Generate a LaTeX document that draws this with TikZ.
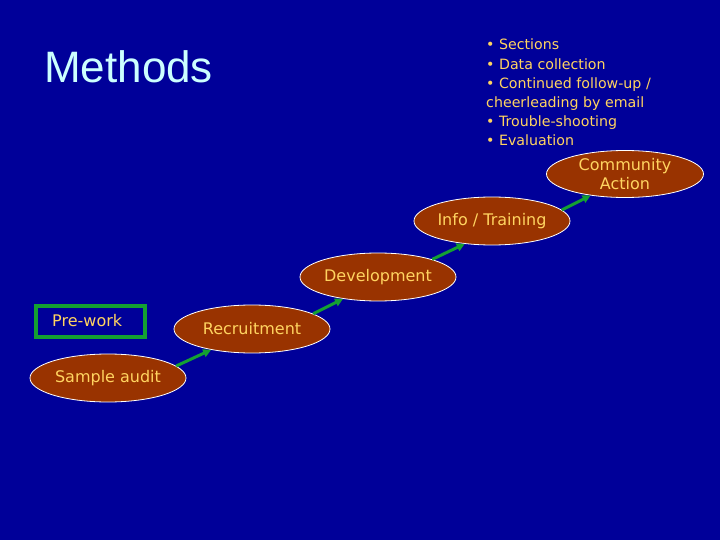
\documentclass[tikz,border=0pt]{standalone}
\usepackage{fontspec}
\setmainfont{DejaVu Sans}
\newfontfamily\titlefont{Liberation Sans}
\usetikzlibrary{shapes.geometric,arrows.meta}
\definecolor{bgblue}{RGB}{0,0,153}
\definecolor{stepbrown}{RGB}{153,51,0}
\definecolor{txtyellow}{RGB}{255,212,96}
\definecolor{arrgreen}{RGB}{20,160,50}
\definecolor{titlecyan}{RGB}{204,255,255}
\tikzset{
  stage/.style={ellipse, draw=white, line width=0.8pt, fill=stepbrown, minimum width=156pt, minimum height=48pt, inner sep=0pt, text=txtyellow, font=\fontsize{16}{19}\selectfont, align=center},
  flow/.style={draw=arrgreen, line width=3pt, -{Triangle[length=8pt,width=8pt]}}
}
\begin{document}
\begin{tikzpicture}[x=1pt,y=-1pt]
\useasboundingbox (0,0) rectangle (720,540);
\fill[bgblue] (0,0) rectangle (720,540);
\node[anchor=base west, inner sep=0pt, text=titlecyan, font=\titlefont\fontsize{44}{50}\selectfont] (title) at (44,83) {Methods};
\node[anchor=north west, inner sep=0pt, text=txtyellow, align=left, font=\fontsize{14.2}{19.2}\selectfont] (list) at (486,39)
  {• Sections\\• Data collection\\• Continued follow-up /\\cheerleading by email\\• Trouble-shooting\\• Evaluation};
\node[draw=arrgreen, line width=4pt, minimum width=109pt, minimum height=31pt, inner sep=0pt] (pre) at (90.5,321.5) {};
\node[anchor=base west, inner sep=0pt, text=txtyellow, font=\fontsize{16}{19}\selectfont] (pretext) at (52,326) {Pre-work};
\node[stage] (sa) at (108,378) {Sample audit};
\node[stage] (rec) at (252,329) {Recruitment};
\node[stage] (dev) at (378,277) {Development};
\node[stage] (info) at (492,221) {Info / Training};
\node[stage, minimum width=157pt, minimum height=47pt] (ca) at (625,174) {Community\\Action};
\draw[flow] (sa.10) -- (rec.207);
\draw[flow] (rec.14) -- (dev.212);
\draw[flow] (dev.18) -- (info.220);
\draw[flow] (info.9) -- (ca.212);
\end{tikzpicture}
\end{document}
